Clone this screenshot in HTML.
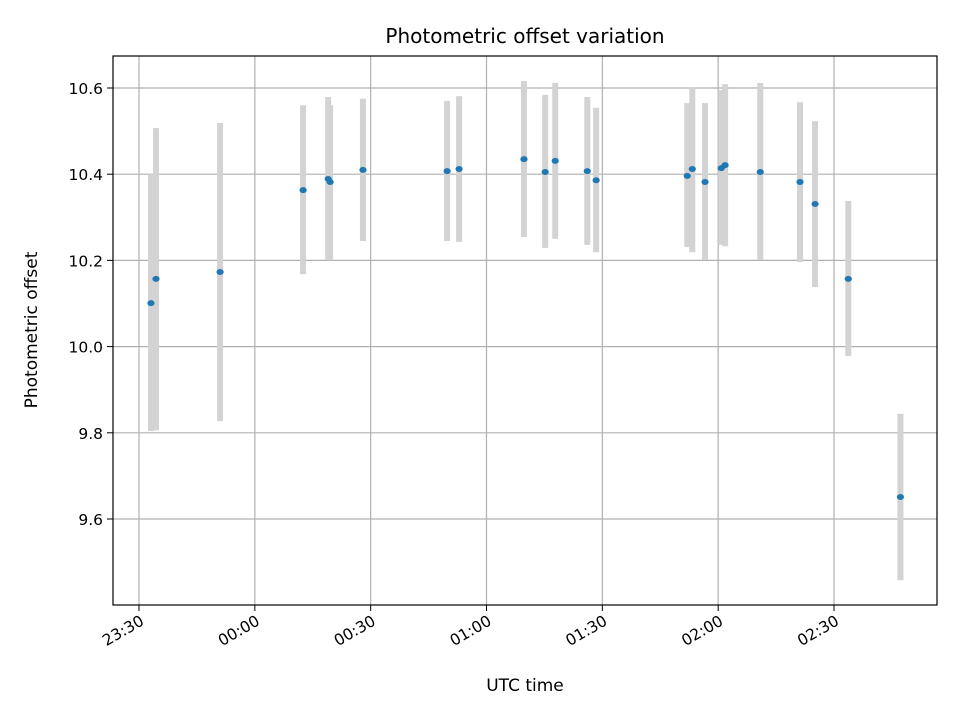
<!DOCTYPE html>
<html><head><meta charset="utf-8"><style>
body{margin:0;background:#fff}
svg text{font-family:"DejaVu Sans","Liberation Sans",sans-serif;fill:#000}
</style></head><body>
<svg id="chart" width="960" height="720" xmlns="http://www.w3.org/2000/svg">
<rect width="960" height="720" fill="#fff"/>
<text x="525" y="43" font-size="20" text-anchor="middle">Photometric offset variation</text>
<text x="525" y="691" font-size="17" text-anchor="middle">UTC time</text>
<text x="37" y="330" font-size="17" text-anchor="middle" transform="rotate(-90 37 330)">Photometric offset</text>
<g id="grid"></g><g id="bars"></g><g id="pts"></g><g id="ticks"></g>
<rect x="113" y="56" width="824" height="549" fill="none" stroke="#000" stroke-width="1.2"/>
</svg>
<script>
// minutes after 23:30 UTC
const times=[3.1,4.4,21.0,42.5,49.0,49.5,58.0,79.8,82.9,99.7,105.2,107.8,116.1,118.4,142.0,143.3,146.6,150.8,151.8,160.9,171.2,175.1,183.7,197.2];
const values=[10.101,10.157,10.173,10.363,10.389,10.382,10.410,10.407,10.412,10.435,10.405,10.431,10.407,10.386,10.396,10.412,10.382,10.414,10.421,10.405,10.382,10.331,10.157,9.651];
const highs=[10.400,10.507,10.519,10.560,10.579,10.560,10.575,10.570,10.581,10.616,10.584,10.612,10.579,10.554,10.565,10.602,10.565,10.595,10.609,10.612,10.567,10.523,10.338,9.844];
const lows=[9.804,9.806,9.827,10.168,10.201,10.200,10.245,10.245,10.243,10.254,10.229,10.250,10.236,10.219,10.231,10.219,10.201,10.236,10.233,10.201,10.196,10.138,9.978,9.458];
const xTickMinutes=[0,30,60,90,120,150,180];
const xTickLabels=["23:30","00:00","00:30","01:00","01:30","02:00","02:30"];
const yTicks=[9.6,9.8,10.0,10.2,10.4,10.6];
const yTickLabels=["9.6","9.8","10.0","10.2","10.4","10.6"];
const X=m=>139+m*(834-139)/180;
const Y=v=>519-(v-9.6)*431;
const NS="http://www.w3.org/2000/svg";
function mk(tag,attrs,parent){const e=document.createElementNS(NS,tag);for(const k in attrs)e.setAttribute(k,attrs[k]);document.getElementById(parent).appendChild(e);return e;}
yTicks.forEach((v,i)=>{
  const g=mk('line',{x1:113,x2:937,y1:Y(v),y2:Y(v),stroke:'#b0b0b0','stroke-width':1.2},'grid');
  
  
  mk('line',{x1:107,x2:113,y1:Y(v),y2:Y(v),stroke:'#000'},'ticks');
  const t=mk('text',{x:103,y:Y(v)+6,'font-size':15.5,'text-anchor':'end'},'ticks');
  t.textContent=yTickLabels[i];
  
  
});
xTickMinutes.forEach((m,i)=>{
  const g=mk('line',{x1:X(m),x2:X(m),y1:56,y2:605,stroke:'#b0b0b0','stroke-width':1.2},'grid');
  
  
  mk('line',{x1:X(m),x2:X(m),y1:605,y2:611,stroke:'#000'},'ticks');
  const t=mk('text',{x:X(m)+6,y:624,'font-size':15.5,'text-anchor':'end',transform:`rotate(-30 ${X(m)+6} 624)`},'ticks');
  t.textContent=xTickLabels[i];
  
  
});
times.forEach((m,i)=>{
  const b=mk('rect',{x:X(m)-3,y:Y(highs[i]),width:6,height:Y(lows[i])-Y(highs[i]),fill:'#d3d3d3'},'bars');
  
  
});
times.forEach((m,i)=>{
  const p=mk('ellipse',{cx:X(m),cy:Y(values[i]),rx:3.6,ry:3,fill:'#1f77b4'},'pts');
  
  
});
</script>
</body></html>
